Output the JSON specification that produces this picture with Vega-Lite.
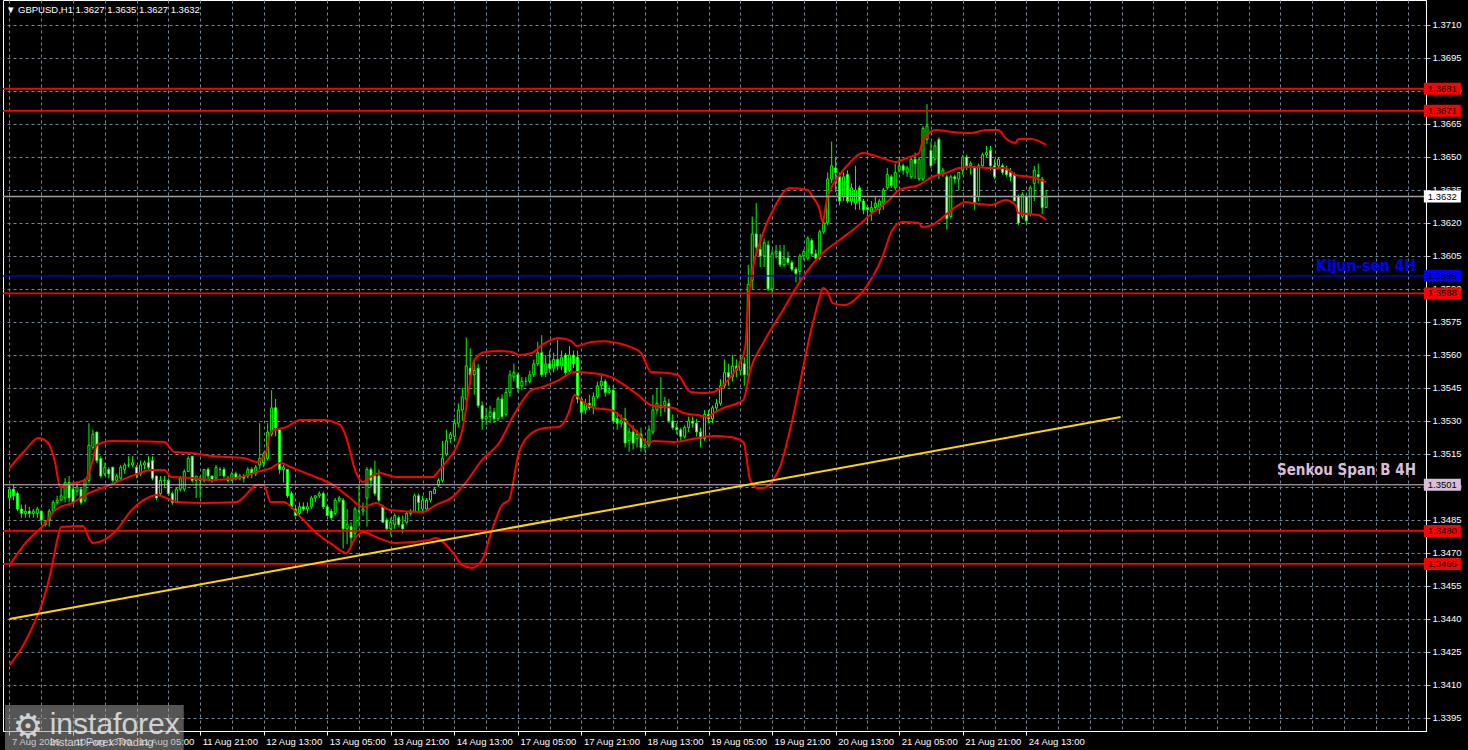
{
"$schema":"https://vega.github.io/schema/vega-lite/v6.json",
"width":1423,"height":731,
"autosize":{"type":"none"},
"padding":{"left":3,"top":0,"right":42,"bottom":19},
"background":"#000000",
"config":{"view":{"stroke":"#ffffff","strokeWidth":1},"font":"Liberation Sans"},
"title":{"text":"▼ GBPUSD,H1  1.3627 1.3635 1.3627 1.3632","anchor":"start","frame":"group","offset":-14,"dx":3,"color":"#ffffff","font":"Liberation Sans","fontSize":9.5,"fontWeight":"normal"},
"datasets":{
"candles":[
{"i":0,"o":1.3495,"h":1.3499,"l":1.349,"c":1.3499},
{"i":1,"o":1.3499,"h":1.3501,"l":1.3494,"c":1.3496},
{"i":2,"o":1.3497,"h":1.3498,"l":1.3489,"c":1.349},
{"i":3,"o":1.349,"h":1.3492,"l":1.3486,"c":1.3488},
{"i":4,"o":1.3488,"h":1.3492,"l":1.3486,"c":1.3489},
{"i":5,"o":1.3489,"h":1.3491,"l":1.3486,"c":1.3488},
{"i":6,"o":1.3488,"h":1.349,"l":1.3486,"c":1.3489},
{"i":7,"o":1.3488,"h":1.3491,"l":1.3486,"c":1.349},
{"i":8,"o":1.3489,"h":1.3489,"l":1.3483,"c":1.3485},
{"i":9,"o":1.3484,"h":1.3485,"l":1.3482,"c":1.3483},
{"i":10,"o":1.3485,"h":1.349,"l":1.3482,"c":1.3489},
{"i":11,"o":1.3489,"h":1.3494,"l":1.3488,"c":1.3493},
{"i":12,"o":1.3493,"h":1.3496,"l":1.3492,"c":1.3494},
{"i":13,"o":1.3494,"h":1.35,"l":1.3494,"c":1.3496},
{"i":14,"o":1.3495,"h":1.3504,"l":1.3493,"c":1.3502},
{"i":15,"o":1.3502,"h":1.3505,"l":1.3493,"c":1.3495},
{"i":16,"o":1.3499,"h":1.3501,"l":1.3492,"c":1.3493},
{"i":17,"o":1.3498,"h":1.3502,"l":1.3496,"c":1.35},
{"i":18,"o":1.3499,"h":1.35,"l":1.3492,"c":1.3493},
{"i":19,"o":1.3494,"h":1.3504,"l":1.3493,"c":1.3503},
{"i":20,"o":1.3503,"h":1.3529,"l":1.3502,"c":1.3519},
{"i":21,"o":1.3518,"h":1.3526,"l":1.3517,"c":1.3524},
{"i":22,"o":1.3525,"h":1.3525,"l":1.3511,"c":1.3512},
{"i":23,"o":1.3513,"h":1.3514,"l":1.3504,"c":1.3505},
{"i":24,"o":1.3506,"h":1.3511,"l":1.3505,"c":1.3509},
{"i":25,"o":1.3508,"h":1.3509,"l":1.3504,"c":1.3506},
{"i":26,"o":1.3509,"h":1.3509,"l":1.3502,"c":1.3503},
{"i":27,"o":1.3503,"h":1.3506,"l":1.3502,"c":1.3505},
{"i":28,"o":1.3504,"h":1.351,"l":1.3503,"c":1.3509},
{"i":29,"o":1.3508,"h":1.3511,"l":1.3506,"c":1.351},
{"i":30,"o":1.351,"h":1.3514,"l":1.3509,"c":1.351},
{"i":31,"o":1.351,"h":1.3514,"l":1.3509,"c":1.3511},
{"i":32,"o":1.3509,"h":1.351,"l":1.3504,"c":1.3506},
{"i":33,"o":1.3506,"h":1.3512,"l":1.3505,"c":1.351},
{"i":34,"o":1.351,"h":1.3512,"l":1.3508,"c":1.3511},
{"i":35,"o":1.3511,"h":1.3514,"l":1.3508,"c":1.3509},
{"i":36,"o":1.3512,"h":1.3514,"l":1.3503,"c":1.3504},
{"i":37,"o":1.3505,"h":1.3505,"l":1.3494,"c":1.3495},
{"i":38,"o":1.3497,"h":1.3505,"l":1.3496,"c":1.3503},
{"i":39,"o":1.3503,"h":1.3505,"l":1.35,"c":1.3503},
{"i":40,"o":1.3503,"h":1.3504,"l":1.3496,"c":1.3497},
{"i":41,"o":1.3497,"h":1.3498,"l":1.3492,"c":1.3493},
{"i":42,"o":1.3493,"h":1.35,"l":1.3493,"c":1.3499},
{"i":43,"o":1.3499,"h":1.3505,"l":1.3498,"c":1.3504},
{"i":44,"o":1.3499,"h":1.3508,"l":1.3498,"c":1.3507},
{"i":45,"o":1.3507,"h":1.3514,"l":1.3507,"c":1.3513},
{"i":46,"o":1.3514,"h":1.3514,"l":1.3502,"c":1.3503},
{"i":47,"o":1.3503,"h":1.3505,"l":1.3495,"c":1.3505},
{"i":48,"o":1.3504,"h":1.3505,"l":1.3495,"c":1.3503},
{"i":49,"o":1.3503,"h":1.3508,"l":1.3502,"c":1.3508},
{"i":50,"o":1.3508,"h":1.3509,"l":1.3503,"c":1.3505},
{"i":51,"o":1.3505,"h":1.3505,"l":1.3502,"c":1.3503},
{"i":52,"o":1.3504,"h":1.351,"l":1.3503,"c":1.3509},
{"i":53,"o":1.3508,"h":1.3509,"l":1.3505,"c":1.3508},
{"i":54,"o":1.3508,"h":1.3509,"l":1.3504,"c":1.3505},
{"i":55,"o":1.3504,"h":1.3505,"l":1.3502,"c":1.3503},
{"i":56,"o":1.3503,"h":1.3507,"l":1.3503,"c":1.3506},
{"i":57,"o":1.3506,"h":1.3507,"l":1.3503,"c":1.3504},
{"i":58,"o":1.3504,"h":1.3506,"l":1.3503,"c":1.3505},
{"i":59,"o":1.3505,"h":1.3506,"l":1.3502,"c":1.3504},
{"i":60,"o":1.3505,"h":1.3509,"l":1.3504,"c":1.3508},
{"i":61,"o":1.3508,"h":1.3509,"l":1.3504,"c":1.3506},
{"i":62,"o":1.3506,"h":1.351,"l":1.3505,"c":1.3509},
{"i":63,"o":1.351,"h":1.3529,"l":1.3508,"c":1.3513},
{"i":64,"o":1.3511,"h":1.3516,"l":1.3509,"c":1.3515},
{"i":65,"o":1.3513,"h":1.3529,"l":1.3512,"c":1.3525},
{"i":66,"o":1.3524,"h":1.3544,"l":1.3523,"c":1.3536},
{"i":67,"o":1.3536,"h":1.354,"l":1.3523,"c":1.3527},
{"i":68,"o":1.3526,"h":1.3526,"l":1.3506,"c":1.3508},
{"i":69,"o":1.3508,"h":1.351,"l":1.3502,"c":1.3509},
{"i":70,"o":1.3508,"h":1.3508,"l":1.3495,"c":1.3496},
{"i":71,"o":1.3497,"h":1.3498,"l":1.349,"c":1.3491},
{"i":72,"o":1.349,"h":1.3491,"l":1.3487,"c":1.3487},
{"i":73,"o":1.3488,"h":1.3493,"l":1.3487,"c":1.3491},
{"i":74,"o":1.3491,"h":1.3493,"l":1.3489,"c":1.349},
{"i":75,"o":1.349,"h":1.3493,"l":1.3488,"c":1.3491},
{"i":76,"o":1.3491,"h":1.3496,"l":1.349,"c":1.3495},
{"i":77,"o":1.3495,"h":1.3496,"l":1.3493,"c":1.3496},
{"i":78,"o":1.3496,"h":1.3498,"l":1.3495,"c":1.3497},
{"i":79,"o":1.3497,"h":1.3498,"l":1.349,"c":1.3491},
{"i":80,"o":1.3491,"h":1.3492,"l":1.3487,"c":1.3487},
{"i":81,"o":1.3489,"h":1.349,"l":1.3485,"c":1.3486},
{"i":82,"o":1.3488,"h":1.3495,"l":1.3487,"c":1.3494},
{"i":83,"o":1.3494,"h":1.3496,"l":1.3493,"c":1.3495},
{"i":84,"o":1.3494,"h":1.3495,"l":1.3472,"c":1.3481},
{"i":85,"o":1.3481,"h":1.349,"l":1.3474,"c":1.3483},
{"i":86,"o":1.3482,"h":1.3484,"l":1.3473,"c":1.3477},
{"i":87,"o":1.3479,"h":1.3491,"l":1.3477,"c":1.349},
{"i":88,"o":1.3489,"h":1.3501,"l":1.3482,"c":1.3489},
{"i":89,"o":1.3489,"h":1.3493,"l":1.3487,"c":1.349},
{"i":90,"o":1.3495,"h":1.3509,"l":1.3482,"c":1.3508},
{"i":91,"o":1.3508,"h":1.3509,"l":1.35,"c":1.3503},
{"i":92,"o":1.3505,"h":1.3512,"l":1.3496,"c":1.3497},
{"i":93,"o":1.3505,"h":1.3508,"l":1.3493,"c":1.3494},
{"i":94,"o":1.3491,"h":1.3492,"l":1.3484,"c":1.3484},
{"i":95,"o":1.3485,"h":1.3486,"l":1.348,"c":1.3481},
{"i":96,"o":1.3481,"h":1.3486,"l":1.3478,"c":1.3484},
{"i":97,"o":1.3483,"h":1.3488,"l":1.3481,"c":1.3487},
{"i":98,"o":1.3486,"h":1.3487,"l":1.3482,"c":1.3483},
{"i":99,"o":1.3483,"h":1.3487,"l":1.3479,"c":1.3481},
{"i":100,"o":1.3484,"h":1.3489,"l":1.3483,"c":1.3488},
{"i":101,"o":1.3488,"h":1.349,"l":1.3487,"c":1.3489},
{"i":102,"o":1.3489,"h":1.3497,"l":1.3489,"c":1.3496},
{"i":103,"o":1.3496,"h":1.3497,"l":1.3489,"c":1.3493},
{"i":104,"o":1.349,"h":1.3496,"l":1.3489,"c":1.3494},
{"i":105,"o":1.349,"h":1.3495,"l":1.3489,"c":1.3494},
{"i":106,"o":1.3494,"h":1.3498,"l":1.3493,"c":1.3498},
{"i":107,"o":1.3497,"h":1.35,"l":1.3497,"c":1.3499},
{"i":108,"o":1.3501,"h":1.3504,"l":1.35,"c":1.3503},
{"i":109,"o":1.3503,"h":1.3521,"l":1.3502,"c":1.3513},
{"i":110,"o":1.3515,"h":1.3526,"l":1.3514,"c":1.3521},
{"i":111,"o":1.3522,"h":1.3525,"l":1.352,"c":1.3524},
{"i":112,"o":1.3523,"h":1.3531,"l":1.3521,"c":1.3529},
{"i":113,"o":1.3529,"h":1.3538,"l":1.3527,"c":1.3535},
{"i":114,"o":1.3535,"h":1.3545,"l":1.353,"c":1.3541},
{"i":115,"o":1.354,"h":1.3568,"l":1.3538,"c":1.3555},
{"i":116,"o":1.3554,"h":1.3563,"l":1.3547,"c":1.3551},
{"i":117,"o":1.3551,"h":1.3557,"l":1.3542,"c":1.3553},
{"i":118,"o":1.3554,"h":1.3556,"l":1.3536,"c":1.3537},
{"i":119,"o":1.3537,"h":1.3539,"l":1.3526,"c":1.3531},
{"i":120,"o":1.3531,"h":1.3536,"l":1.3528,"c":1.3532},
{"i":121,"o":1.3532,"h":1.3537,"l":1.3529,"c":1.3534},
{"i":122,"o":1.3534,"h":1.3536,"l":1.3529,"c":1.3531},
{"i":123,"o":1.3531,"h":1.3541,"l":1.353,"c":1.354},
{"i":124,"o":1.354,"h":1.3542,"l":1.3531,"c":1.3532},
{"i":125,"o":1.3533,"h":1.3545,"l":1.3532,"c":1.3543},
{"i":126,"o":1.3543,"h":1.3553,"l":1.3541,"c":1.3551},
{"i":127,"o":1.355,"h":1.3556,"l":1.3548,"c":1.3552},
{"i":128,"o":1.3551,"h":1.3552,"l":1.3543,"c":1.3545},
{"i":129,"o":1.3546,"h":1.355,"l":1.3544,"c":1.3548},
{"i":130,"o":1.3548,"h":1.355,"l":1.3546,"c":1.3548},
{"i":131,"o":1.3548,"h":1.3553,"l":1.3547,"c":1.3551},
{"i":132,"o":1.3551,"h":1.3558,"l":1.355,"c":1.3556},
{"i":133,"o":1.3556,"h":1.3566,"l":1.3555,"c":1.3561},
{"i":134,"o":1.3561,"h":1.3569,"l":1.355,"c":1.3551},
{"i":135,"o":1.3552,"h":1.356,"l":1.355,"c":1.3556},
{"i":136,"o":1.3556,"h":1.3562,"l":1.3552,"c":1.3554},
{"i":137,"o":1.3554,"h":1.3561,"l":1.3552,"c":1.3558},
{"i":138,"o":1.3558,"h":1.3567,"l":1.3553,"c":1.3555},
{"i":139,"o":1.3555,"h":1.3562,"l":1.3553,"c":1.3559},
{"i":140,"o":1.356,"h":1.3561,"l":1.355,"c":1.3552},
{"i":141,"o":1.3553,"h":1.3564,"l":1.3552,"c":1.356},
{"i":142,"o":1.356,"h":1.3562,"l":1.3554,"c":1.3556},
{"i":143,"o":1.3559,"h":1.3562,"l":1.3538,"c":1.354},
{"i":144,"o":1.354,"h":1.3541,"l":1.353,"c":1.3534},
{"i":145,"o":1.3535,"h":1.354,"l":1.3533,"c":1.3538},
{"i":146,"o":1.3538,"h":1.3542,"l":1.3535,"c":1.3536},
{"i":147,"o":1.3536,"h":1.3543,"l":1.3533,"c":1.3541},
{"i":148,"o":1.3541,"h":1.3548,"l":1.354,"c":1.3546},
{"i":149,"o":1.3546,"h":1.3551,"l":1.3544,"c":1.3548},
{"i":150,"o":1.3548,"h":1.3549,"l":1.3541,"c":1.3543},
{"i":151,"o":1.3543,"h":1.3546,"l":1.3542,"c":1.3544},
{"i":152,"o":1.3544,"h":1.3546,"l":1.3529,"c":1.353},
{"i":153,"o":1.3531,"h":1.3534,"l":1.3526,"c":1.3529},
{"i":154,"o":1.3529,"h":1.3533,"l":1.3527,"c":1.353},
{"i":155,"o":1.3531,"h":1.3536,"l":1.3518,"c":1.352},
{"i":156,"o":1.3521,"h":1.3527,"l":1.3516,"c":1.3525},
{"i":157,"o":1.3525,"h":1.3528,"l":1.3517,"c":1.352},
{"i":158,"o":1.3522,"h":1.3526,"l":1.3518,"c":1.3524},
{"i":159,"o":1.3524,"h":1.3527,"l":1.3516,"c":1.3518},
{"i":160,"o":1.3518,"h":1.3522,"l":1.3516,"c":1.3519},
{"i":161,"o":1.3519,"h":1.3528,"l":1.3518,"c":1.3526},
{"i":162,"o":1.3525,"h":1.3542,"l":1.3524,"c":1.3535},
{"i":163,"o":1.3535,"h":1.3545,"l":1.3533,"c":1.3538},
{"i":164,"o":1.3537,"h":1.355,"l":1.3532,"c":1.3536},
{"i":165,"o":1.3537,"h":1.3541,"l":1.3534,"c":1.3539},
{"i":166,"o":1.3538,"h":1.354,"l":1.3529,"c":1.353},
{"i":167,"o":1.353,"h":1.3533,"l":1.3526,"c":1.3527},
{"i":168,"o":1.3527,"h":1.3529,"l":1.3524,"c":1.3526},
{"i":169,"o":1.3526,"h":1.3527,"l":1.3521,"c":1.3523},
{"i":170,"o":1.3523,"h":1.3528,"l":1.3522,"c":1.3527},
{"i":171,"o":1.3527,"h":1.3532,"l":1.3525,"c":1.353},
{"i":172,"o":1.353,"h":1.3532,"l":1.3527,"c":1.3529},
{"i":173,"o":1.3529,"h":1.3531,"l":1.3523,"c":1.3525},
{"i":174,"o":1.3525,"h":1.3527,"l":1.3518,"c":1.3522},
{"i":175,"o":1.3522,"h":1.3535,"l":1.3521,"c":1.3533},
{"i":176,"o":1.3533,"h":1.3535,"l":1.3529,"c":1.3531},
{"i":177,"o":1.3531,"h":1.3537,"l":1.3529,"c":1.3536},
{"i":178,"o":1.3536,"h":1.354,"l":1.3534,"c":1.3538},
{"i":179,"o":1.3538,"h":1.3549,"l":1.3537,"c":1.3546},
{"i":180,"o":1.3546,"h":1.3558,"l":1.3545,"c":1.3552},
{"i":181,"o":1.3552,"h":1.3556,"l":1.3546,"c":1.355},
{"i":182,"o":1.355,"h":1.356,"l":1.3548,"c":1.3555},
{"i":183,"o":1.3555,"h":1.3558,"l":1.355,"c":1.3553},
{"i":184,"o":1.3553,"h":1.356,"l":1.3551,"c":1.3557},
{"i":185,"o":1.3556,"h":1.3559,"l":1.3546,"c":1.3551},
{"i":186,"o":1.3551,"h":1.3601,"l":1.355,"c":1.3592},
{"i":187,"o":1.3594,"h":1.3623,"l":1.359,"c":1.3615},
{"i":188,"o":1.3615,"h":1.3629,"l":1.3605,"c":1.3609},
{"i":189,"o":1.3608,"h":1.3615,"l":1.36,"c":1.3605},
{"i":190,"o":1.3605,"h":1.3613,"l":1.36,"c":1.3611},
{"i":191,"o":1.361,"h":1.3612,"l":1.3589,"c":1.359},
{"i":192,"o":1.359,"h":1.3608,"l":1.3588,"c":1.3606},
{"i":193,"o":1.3606,"h":1.361,"l":1.3604,"c":1.3607},
{"i":194,"o":1.3607,"h":1.361,"l":1.36,"c":1.3601},
{"i":195,"o":1.3601,"h":1.361,"l":1.36,"c":1.3604},
{"i":196,"o":1.3604,"h":1.3607,"l":1.3601,"c":1.3602},
{"i":197,"o":1.3602,"h":1.3603,"l":1.3598,"c":1.3599},
{"i":198,"o":1.3599,"h":1.36,"l":1.3593,"c":1.3597},
{"i":199,"o":1.3598,"h":1.3606,"l":1.3593,"c":1.3605},
{"i":200,"o":1.3605,"h":1.3608,"l":1.3603,"c":1.3607},
{"i":201,"o":1.3604,"h":1.3614,"l":1.3603,"c":1.3613},
{"i":202,"o":1.3612,"h":1.3613,"l":1.3605,"c":1.3606},
{"i":203,"o":1.3606,"h":1.3608,"l":1.3603,"c":1.3604},
{"i":204,"o":1.3604,"h":1.3617,"l":1.3603,"c":1.3616},
{"i":205,"o":1.3616,"h":1.3623,"l":1.3615,"c":1.362},
{"i":206,"o":1.362,"h":1.3643,"l":1.3619,"c":1.364},
{"i":207,"o":1.364,"h":1.3657,"l":1.3638,"c":1.3646},
{"i":208,"o":1.3645,"h":1.365,"l":1.3634,"c":1.3643},
{"i":209,"o":1.3641,"h":1.3643,"l":1.3628,"c":1.363},
{"i":210,"o":1.3632,"h":1.3643,"l":1.363,"c":1.3641},
{"i":211,"o":1.3642,"h":1.3644,"l":1.3629,"c":1.363},
{"i":212,"o":1.363,"h":1.3638,"l":1.3628,"c":1.3636},
{"i":213,"o":1.3629,"h":1.3646,"l":1.3626,"c":1.3635},
{"i":214,"o":1.3636,"h":1.3637,"l":1.3626,"c":1.363},
{"i":215,"o":1.363,"h":1.3631,"l":1.3624,"c":1.3626},
{"i":216,"o":1.3627,"h":1.3628,"l":1.3619,"c":1.3626},
{"i":217,"o":1.3625,"h":1.363,"l":1.3621,"c":1.3627},
{"i":218,"o":1.3627,"h":1.3632,"l":1.3625,"c":1.3629},
{"i":219,"o":1.3626,"h":1.3631,"l":1.3624,"c":1.363},
{"i":220,"o":1.3629,"h":1.3636,"l":1.3626,"c":1.3635},
{"i":221,"o":1.3636,"h":1.3645,"l":1.3635,"c":1.3642},
{"i":222,"o":1.3641,"h":1.3642,"l":1.3636,"c":1.3637},
{"i":223,"o":1.3636,"h":1.3647,"l":1.3635,"c":1.3643},
{"i":224,"o":1.3644,"h":1.365,"l":1.3643,"c":1.3646},
{"i":225,"o":1.3646,"h":1.3647,"l":1.3642,"c":1.3644},
{"i":226,"o":1.3643,"h":1.3646,"l":1.3641,"c":1.3645},
{"i":227,"o":1.3641,"h":1.365,"l":1.364,"c":1.3649},
{"i":228,"o":1.3649,"h":1.3652,"l":1.364,"c":1.3647},
{"i":229,"o":1.364,"h":1.365,"l":1.3639,"c":1.3649},
{"i":230,"o":1.364,"h":1.3664,"l":1.3639,"c":1.3663},
{"i":231,"o":1.3658,"h":1.3674,"l":1.3656,"c":1.3664},
{"i":232,"o":1.3653,"h":1.3657,"l":1.3645,"c":1.3646},
{"i":233,"o":1.3649,"h":1.3657,"l":1.3647,"c":1.3655},
{"i":234,"o":1.3658,"h":1.3659,"l":1.364,"c":1.3642},
{"i":235,"o":1.3642,"h":1.3645,"l":1.3641,"c":1.3644},
{"i":236,"o":1.3641,"h":1.3642,"l":1.3617,"c":1.3622},
{"i":237,"o":1.3623,"h":1.3642,"l":1.3622,"c":1.3641},
{"i":238,"o":1.3641,"h":1.3642,"l":1.3638,"c":1.364},
{"i":239,"o":1.364,"h":1.3643,"l":1.3635,"c":1.3643},
{"i":240,"o":1.3644,"h":1.3651,"l":1.3642,"c":1.365},
{"i":241,"o":1.365,"h":1.3651,"l":1.3644,"c":1.3646},
{"i":242,"o":1.3646,"h":1.3648,"l":1.3642,"c":1.3647},
{"i":243,"o":1.3645,"h":1.3646,"l":1.3626,"c":1.3629},
{"i":244,"o":1.3632,"h":1.3647,"l":1.363,"c":1.3646},
{"i":245,"o":1.3646,"h":1.3652,"l":1.3645,"c":1.3651},
{"i":246,"o":1.3651,"h":1.3655,"l":1.365,"c":1.3652},
{"i":247,"o":1.3653,"h":1.3655,"l":1.3644,"c":1.3646},
{"i":248,"o":1.3646,"h":1.3649,"l":1.364,"c":1.3641},
{"i":249,"o":1.3646,"h":1.365,"l":1.3645,"c":1.3649},
{"i":250,"o":1.3646,"h":1.3647,"l":1.3642,"c":1.3643},
{"i":251,"o":1.3644,"h":1.3646,"l":1.3641,"c":1.3642},
{"i":252,"o":1.3643,"h":1.3645,"l":1.3639,"c":1.3641},
{"i":253,"o":1.3642,"h":1.3643,"l":1.363,"c":1.363},
{"i":254,"o":1.3632,"h":1.3633,"l":1.3619,"c":1.362},
{"i":255,"o":1.3623,"h":1.3634,"l":1.3622,"c":1.3633},
{"i":256,"o":1.3632,"h":1.3633,"l":1.362,"c":1.3621},
{"i":257,"o":1.3624,"h":1.3637,"l":1.3623,"c":1.3636},
{"i":258,"o":1.3638,"h":1.3646,"l":1.363,"c":1.3644},
{"i":259,"o":1.3642,"h":1.3647,"l":1.3638,"c":1.3641},
{"i":260,"o":1.364,"h":1.3641,"l":1.3624,"c":1.3627},
{"i":261,"o":1.3627,"h":1.3635,"l":1.3627,"c":1.3632}
],
"bands":[
{"b":"u","i":0,"p":1.35086},{"b":"u","i":4,"p":1.35168},{"b":"u","i":7.25,"p":1.35223},{"b":"u","i":9.75,"p":1.352},{"b":"u","i":11.5,"p":1.35109},{"b":"u","i":12.75,"p":1.35},{"b":"u","i":15.25,"p":1.35014},{"b":"u","i":19,"p":1.35032},{"b":"u","i":21,"p":1.35123},{"b":"u","i":22,"p":1.35191},{"b":"u","i":25.75,"p":1.35209},{"b":"u","i":39,"p":1.35205},{"b":"u","i":41.5,"p":1.35159},{"b":"u","i":45.75,"p":1.35155},{"b":"u","i":50.75,"p":1.35141},{"b":"u","i":59,"p":1.35132},{"b":"u","i":62.25,"p":1.35114},{"b":"u","i":64.75,"p":1.35168},{"b":"u","i":65.75,"p":1.3525},{"b":"u","i":69.75,"p":1.35273},{"b":"u","i":73.25,"p":1.35305},{"b":"u","i":79,"p":1.35305},{"b":"u","i":83.25,"p":1.35282},{"b":"u","i":84.75,"p":1.35227},{"b":"u","i":87.25,"p":1.35064},{"b":"u","i":89,"p":1.35023},{"b":"u","i":90.75,"p":1.35045},{"b":"u","i":93.25,"p":1.35064},{"b":"u","i":97.25,"p":1.35045},{"b":"u","i":106.5,"p":1.35045},{"b":"u","i":108.25,"p":1.35077},{"b":"u","i":109.75,"p":1.35109},{"b":"u","i":114,"p":1.35259},{"b":"u","i":115.75,"p":1.35454},{"b":"u","i":117,"p":1.35577},{"b":"u","i":119.75,"p":1.35614},{"b":"u","i":123.25,"p":1.35618},{"b":"u","i":126.5,"p":1.35614},{"b":"u","i":128.25,"p":1.356},{"b":"u","i":131.5,"p":1.35609},{"b":"u","i":134,"p":1.35645},{"b":"u","i":138.25,"p":1.35677},{"b":"u","i":141.5,"p":1.35663},{"b":"u","i":142.75,"p":1.35641},{"b":"u","i":146.5,"p":1.35659},{"b":"u","i":149.75,"p":1.35663},{"b":"u","i":153.25,"p":1.35654},{"b":"u","i":156.5,"p":1.35636},{"b":"u","i":159,"p":1.35609},{"b":"u","i":161.5,"p":1.35523},{"b":"u","i":165.75,"p":1.35518},{"b":"u","i":168.25,"p":1.35509},{"b":"u","i":171.5,"p":1.35432},{"b":"u","i":174.75,"p":1.35427},{"b":"u","i":177.25,"p":1.35432},{"b":"u","i":179.75,"p":1.35464},{"b":"u","i":181.5,"p":1.355},{"b":"u","i":184,"p":1.35568},{"b":"u","i":185.25,"p":1.35636},{"b":"u","i":186,"p":1.3585},{"b":"u","i":189.75,"p":1.36155},{"b":"u","i":192.25,"p":1.36259},{"b":"u","i":196.5,"p":1.36359},{"b":"u","i":201,"p":1.3635},{"b":"u","i":202.25,"p":1.36318},{"b":"u","i":204,"p":1.36259},{"b":"u","i":204.75,"p":1.36204},{"b":"u","i":205.75,"p":1.36305},{"b":"u","i":209,"p":1.36418},{"b":"u","i":211.5,"p":1.36473},{"b":"u","i":214.75,"p":1.36518},{"b":"u","i":217.25,"p":1.36509},{"b":"u","i":219.75,"p":1.36495},{"b":"u","i":223.25,"p":1.36477},{"b":"u","i":225.75,"p":1.36495},{"b":"u","i":229,"p":1.36518},{"b":"u","i":229.75,"p":1.36564},{"b":"u","i":231.5,"p":1.36609},{"b":"u","i":233.25,"p":1.36623},{"b":"u","i":237.25,"p":1.36614},{"b":"u","i":242.25,"p":1.36609},{"b":"u","i":245.75,"p":1.36623},{"b":"u","i":249,"p":1.36623},{"b":"u","i":250.75,"p":1.36586},{"b":"u","i":253.25,"p":1.36564},{"b":"u","i":254,"p":1.36582},{"b":"u","i":257.25,"p":1.36582},{"b":"u","i":261,"p":1.36555},
{"b":"m","i":0,"p":1.34645},{"b":"m","i":4,"p":1.34745},{"b":"m","i":9,"p":1.34836},{"b":"m","i":11.5,"p":1.34895},{"b":"m","i":12.75,"p":1.34909},{"b":"m","i":15.75,"p":1.34927},{"b":"m","i":19,"p":1.34964},{"b":"m","i":24,"p":1.35},{"b":"m","i":31.5,"p":1.35055},{"b":"m","i":35.75,"p":1.35077},{"b":"m","i":39,"p":1.35077},{"b":"m","i":40.75,"p":1.35045},{"b":"m","i":45.75,"p":1.35041},{"b":"m","i":50.75,"p":1.35032},{"b":"m","i":57.25,"p":1.35041},{"b":"m","i":62.25,"p":1.35068},{"b":"m","i":65.75,"p":1.35086},{"b":"m","i":68.25,"p":1.35109},{"b":"m","i":70.75,"p":1.35091},{"b":"m","i":75.75,"p":1.35055},{"b":"m","i":81.5,"p":1.35009},{"b":"m","i":85.75,"p":1.3495},{"b":"m","i":89,"p":1.34909},{"b":"m","i":92.25,"p":1.34927},{"b":"m","i":95.75,"p":1.34895},{"b":"m","i":104,"p":1.34886},{"b":"m","i":107.25,"p":1.34918},{"b":"m","i":111.5,"p":1.34954},{"b":"m","i":114.75,"p":1.35018},{"b":"m","i":119,"p":1.35123},{"b":"m","i":123.25,"p":1.352},{"b":"m","i":127.25,"p":1.35336},{"b":"m","i":131.5,"p":1.35441},{"b":"m","i":134,"p":1.35454},{"b":"m","i":138.25,"p":1.35486},{"b":"m","i":142.25,"p":1.35523},{"b":"m","i":146.5,"p":1.35518},{"b":"m","i":149.75,"p":1.35509},{"b":"m","i":152,"p":1.35495},{"b":"m","i":154.75,"p":1.35464},{"b":"m","i":158.25,"p":1.35418},{"b":"m","i":161.5,"p":1.35373},{"b":"m","i":164.75,"p":1.35364},{"b":"m","i":167.25,"p":1.35359},{"b":"m","i":169.75,"p":1.35336},{"b":"m","i":173.25,"p":1.35327},{"b":"m","i":175.75,"p":1.35318},{"b":"m","i":177.25,"p":1.35336},{"b":"m","i":179.75,"p":1.35359},{"b":"m","i":184.75,"p":1.35395},{"b":"m","i":186.5,"p":1.35532},{"b":"m","i":189.75,"p":1.35654},{"b":"m","i":194.75,"p":1.35805},{"b":"m","i":199.75,"p":1.35954},{"b":"m","i":204.75,"p":1.36064},{"b":"m","i":209,"p":1.36123},{"b":"m","i":213.25,"p":1.36182},{"b":"m","i":217.25,"p":1.36245},{"b":"m","i":221.5,"p":1.36305},{"b":"m","i":224,"p":1.3635},{"b":"m","i":229,"p":1.36373},{"b":"m","i":232.25,"p":1.36409},{"b":"m","i":235.75,"p":1.36427},{"b":"m","i":239,"p":1.3645},{"b":"m","i":242.25,"p":1.36455},{"b":"m","i":247.25,"p":1.3645},{"b":"m","i":250.75,"p":1.3645},{"b":"m","i":253.25,"p":1.36418},{"b":"m","i":257.25,"p":1.36409},{"b":"m","i":261,"p":1.36386},
{"b":"l","i":0,"p":1.34191},{"b":"l","i":2.75,"p":1.34259},{"b":"l","i":6,"p":1.34373},{"b":"l","i":8.5,"p":1.34486},{"b":"l","i":10.5,"p":1.34623},{"b":"l","i":12,"p":1.34759},{"b":"l","i":13,"p":1.34818},{"b":"l","i":18.5,"p":1.34823},{"b":"l","i":20.25,"p":1.34759},{"b":"l","i":21,"p":1.34745},{"b":"l","i":26.5,"p":1.34795},{"b":"l","i":30.75,"p":1.34895},{"b":"l","i":34.75,"p":1.3495},{"b":"l","i":37,"p":1.34964},{"b":"l","i":42.25,"p":1.34932},{"b":"l","i":49,"p":1.34927},{"b":"l","i":57.25,"p":1.34932},{"b":"l","i":59,"p":1.34954},{"b":"l","i":62.25,"p":1.35009},{"b":"l","i":64,"p":1.35009},{"b":"l","i":65.75,"p":1.34932},{"b":"l","i":69,"p":1.34932},{"b":"l","i":73.25,"p":1.34864},{"b":"l","i":77.25,"p":1.34791},{"b":"l","i":81.5,"p":1.34736},{"b":"l","i":84.75,"p":1.347},{"b":"l","i":87.25,"p":1.34773},{"b":"l","i":89,"p":1.34795},{"b":"l","i":92.25,"p":1.34773},{"b":"l","i":97.25,"p":1.34745},{"b":"l","i":105.75,"p":1.34759},{"b":"l","i":107.25,"p":1.34768},{"b":"l","i":111.5,"p":1.34705},{"b":"l","i":114,"p":1.34645},{"b":"l","i":116.5,"p":1.34632},{"b":"l","i":119,"p":1.34668},{"b":"l","i":121.5,"p":1.34805},{"b":"l","i":124,"p":1.34918},{"b":"l","i":125.75,"p":1.34941},{"b":"l","i":128.25,"p":1.35155},{"b":"l","i":131.5,"p":1.35245},{"b":"l","i":134.75,"p":1.35268},{"b":"l","i":138.25,"p":1.35273},{"b":"l","i":140.75,"p":1.35336},{"b":"l","i":142.25,"p":1.35418},{"b":"l","i":144.75,"p":1.35382},{"b":"l","i":147.25,"p":1.35359},{"b":"l","i":151.5,"p":1.3535},{"b":"l","i":154.75,"p":1.35305},{"b":"l","i":158.25,"p":1.35245},{"b":"l","i":160.75,"p":1.352},{"b":"l","i":162.25,"p":1.35209},{"b":"l","i":167.25,"p":1.35205},{"b":"l","i":173.25,"p":1.35223},{"b":"l","i":177.25,"p":1.35232},{"b":"l","i":181.5,"p":1.35227},{"b":"l","i":184.75,"p":1.35205},{"b":"l","i":186.5,"p":1.35032},{"b":"l","i":188.25,"p":1.34995},{"b":"l","i":189.75,"p":1.34995},{"b":"l","i":192.25,"p":1.35032},{"b":"l","i":194,"p":1.35091},{"b":"l","i":196.5,"p":1.35259},{"b":"l","i":202.25,"p":1.35745},{"b":"l","i":204,"p":1.35863},{"b":"l","i":204.75,"p":1.35904},{"b":"l","i":205.75,"p":1.35895},{"b":"l","i":207.25,"p":1.35836},{"b":"l","i":210.25,"p":1.35827},{"b":"l","i":212.75,"p":1.3585},{"b":"l","i":217.25,"p":1.35954},{"b":"l","i":219.75,"p":1.36045},{"b":"l","i":222.25,"p":1.36168},{"b":"l","i":224.75,"p":1.36204},{"b":"l","i":229,"p":1.362},{"b":"l","i":229.75,"p":1.36182},{"b":"l","i":232.25,"p":1.36191},{"b":"l","i":234.75,"p":1.36223},{"b":"l","i":238.25,"p":1.36273},{"b":"l","i":240.75,"p":1.36295},{"b":"l","i":242.25,"p":1.36291},{"b":"l","i":247.25,"p":1.36282},{"b":"l","i":250.75,"p":1.36305},{"b":"l","i":253.25,"p":1.36282},{"b":"l","i":254,"p":1.36245},{"b":"l","i":259,"p":1.36236},{"b":"l","i":261,"p":1.36214}
],
"levels":[
{"p":1.3681,"kind":"res"},{"p":1.3671,"kind":"lvl"},{"p":1.3632,"kind":"price"},{"p":1.3596,"kind":"kijun"},{"p":1.3588,"kind":"lvl"},{"p":1.3501,"kind":"senkou"},{"p":1.348,"kind":"lvl"},{"p":1.3465,"kind":"lvl"}
]
},
"layer":[
{"data":{"name":"candles"},
 "mark":{"type":"rule","color":"#00ff00","strokeWidth":1},
 "encoding":{
  "x":{"field":"i","type":"quantitative","scale":{"domain":[-0.375,355.375],"nice":false,"zero":false},
   "axis":{"orient":"bottom","title":null,"zindex":0,"tickCount":200,
    "values":[0,8,16,24,32,40,48,56,64,72,80,88,96,104,112,120,128,136,144,152,160,168,176,184,192,200,208,216,224,232,240,248,256,264,272,280,288,296,304,312,320,328,336,344,352],
    "grid":true,"gridColor":"#778899","gridDash":[3,3],"gridWidth":1,
    "domain":true,"domainColor":"#ffffff","domainWidth":1,
    "ticks":true,"tickSize":4,"tickColor":"#ffffff",
    "tickOpacity":{"condition":{"test":"datum.value % 16 === 0 && datum.value <= 256","value":1},"value":0},
    "labelExpr":"datum.value % 16 === 0 && datum.value <= 256 ? ['7 Aug 2026','10 Aug 13:00','11 Aug 05:00','11 Aug 21:00','12 Aug 13:00','13 Aug 05:00','13 Aug 21:00','14 Aug 13:00','17 Aug 05:00','17 Aug 21:00','18 Aug 13:00','19 Aug 05:00','19 Aug 21:00','20 Aug 13:00','21 Aug 05:00','21 Aug 21:00','24 Aug 13:00'][datum.value / 16] : ''",
    "labelAlign":"left","labelBaseline":"top","labelPadding":1,"labelOffset":2,
    "labelColor":"#ffffff","labelFont":"Liberation Sans","labelFontSize":9.5,"labelOverlap":false,"labelFlush":false,"labelBound":false}},
  "y":{"field":"l","type":"quantitative","scale":{"domain":[1.338909,1.372136],"nice":false,"zero":false},
   "axis":{"orient":"right","title":null,"zindex":0,"tickCount":200,
    "values":[1.3395,1.341,1.3425,1.344,1.3455,1.347,1.3485,1.35,1.3515,1.353,1.3545,1.356,1.3575,1.359,1.3605,1.362,1.3635,1.365,1.3665,1.368,1.3695,1.371],
    "format":".4f",
    "grid":true,"gridColor":"#778899","gridDash":[3,3],"gridWidth":1,
    "domain":true,"domainColor":"#ffffff","domainWidth":1,
    "ticks":true,"tickSize":4,"tickColor":"#c0c0c0",
    "labelPadding":2,"labelColor":"#ffffff","labelFont":"Liberation Sans","labelFontSize":9.5,"labelOverlap":false,"labelFlush":false,"labelBound":false}},
  "y2":{"field":"h"}
 }},
{"data":{"name":"candles"},
 "mark":{"type":"bar","width":2,"stroke":"#00ff00","strokeWidth":1},
 "encoding":{
  "x":{"field":"i","type":"quantitative"},
  "y":{"field":"o","type":"quantitative"},
  "y2":{"field":"c"},
  "fill":{"condition":{"test":"datum.c >= datum.o","value":"#000000"},"value":"#ffffff"}
 }},
{"data":{"name":"bands"},
 "mark":{"type":"line","color":"#ff0000","strokeWidth":2,"interpolate":"monotone"},
 "encoding":{
  "x":{"field":"i","type":"quantitative"},
  "y":{"field":"p","type":"quantitative"},
  "detail":{"field":"b","type":"nominal"}
 }},
{"data":{"name":"levels"},
 "mark":{"type":"rule"},
 "encoding":{
  "y":{"field":"p","type":"quantitative"},
  "stroke":{"field":"kind","type":"nominal","scale":{"domain":["res","lvl","price","kijun","senkou"],"range":["#ff0000","#ff0000","#a0a0a0","#0000ff","#d8bfd8"]},"legend":null},
  "strokeWidth":{"field":"kind","type":"ordinal","scale":{"domain":["res","lvl","price","kijun","senkou"],"range":[2,1,1,3,4]},"legend":null}
 }},
{"data":{"values":[{"i":0,"p":1.344},{"i":279.75,"p":1.35318}]},
 "mark":{"type":"line","color":"#ffd700","strokeWidth":2},
 "encoding":{
  "x":{"field":"i","type":"quantitative"},
  "y":{"field":"p","type":"quantitative"}
 }},
{"data":{"values":[{"t":"Kijun-sen 4H","p":1.3596}]},
 "mark":{"type":"text","align":"right","baseline":"bottom","dy":-2,"font":"DejaVu Sans Condensed","fontWeight":"bold","fontSize":15.5,"color":"#0000ff"},
 "encoding":{"x":{"datum":354.125},"y":{"field":"p","type":"quantitative"},"text":{"field":"t"}}},
{"data":{"values":[{"t":"Senkou Span B 4H","p":1.3501}]},
 "mark":{"type":"text","align":"right","baseline":"bottom","dy":-7,"font":"DejaVu Sans Condensed","fontWeight":"bold","fontSize":15,"color":"#d8bfd8"},
 "encoding":{"x":{"datum":354.125},"y":{"field":"p","type":"quantitative"},"text":{"field":"t"}}},
{"data":{"name":"levels"},
 "mark":{"type":"tick","orient":"horizontal","size":37,"thickness":12,"opacity":1},
 "encoding":{
  "x":{"datum":360.75},
  "y":{"field":"p","type":"quantitative"},
  "fill":{"field":"kind","type":"nominal","scale":{"domain":["res","lvl","price","kijun","senkou"],"range":["#ff0000","#ff0000","#ffffff","#0000ff","#d8bfd8"]},"legend":null}
 }},
{"data":{"name":"levels"},
 "mark":{"type":"text","align":"center","baseline":"middle","fontSize":9.5,"font":"Liberation Sans","color":"#000000"},
 "encoding":{
  "x":{"datum":360.75},
  "y":{"field":"p","type":"quantitative"},
  "text":{"field":"p","type":"quantitative","format":".4f"}
 }},
{"data":{"values":[{"t":"instaforex"}]},
 "mark":{"type":"rect","color":"#9a9a9a","opacity":0.55},
 "encoding":{"x":{"datum":-1.125},"x2":{"datum":43.875},"y":{"datum":1.34009},"y2":{"datum":1.33805}}},
{"data":{"values":[{"t":"instaforex"}]},
 "mark":{"type":"text","align":"left","baseline":"alphabetic","fontSize":30,"font":"Liberation Sans","color":"#e6e6e6","opacity":0.85},
 "encoding":{"x":{"datum":10.125},"y":{"datum":1.33877},"text":{"field":"t"}}},
{"data":{"values":[{"t":"Instant Forex Trading"}]},
 "mark":{"type":"text","align":"left","baseline":"alphabetic","fontSize":11,"font":"Liberation Sans","color":"#e6e6e6","opacity":0.85},
 "encoding":{"x":{"datum":10.125},"y":{"datum":1.33823},"text":{"field":"t"}}},
{"data":{"values":[{"t":"⚙"}]},
 "mark":{"type":"text","align":"center","baseline":"middle","fontSize":34,"font":"DejaVu Sans","color":"#e6e6e6","opacity":0.85},
 "encoding":{"x":{"datum":4.625},"y":{"datum":1.33905},"text":{"field":"t"}}}
]
}
